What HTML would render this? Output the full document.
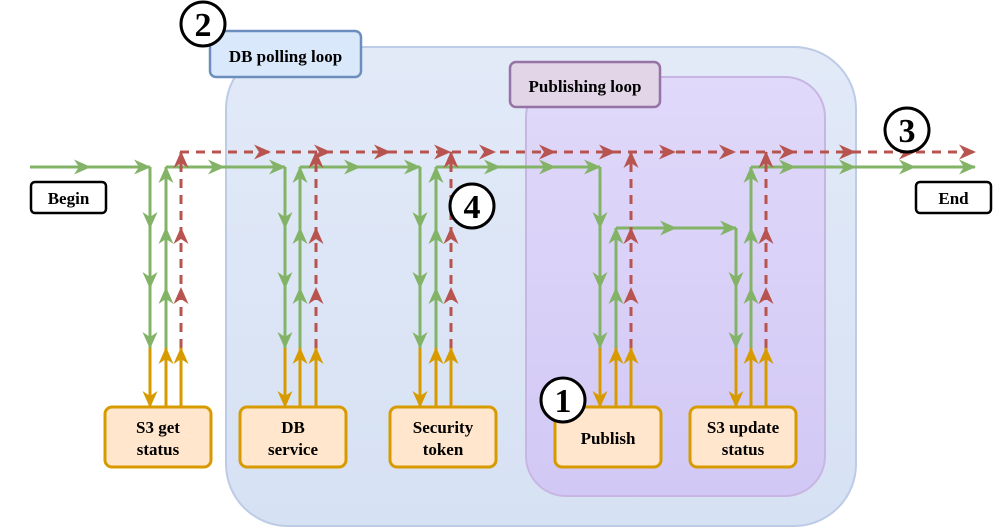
<!DOCTYPE html>
<html><head><meta charset="utf-8"><style>
html,body{margin:0;padding:0;background:#fff;width:993px;height:528px;overflow:hidden}
svg text{font-family:"Liberation Serif",serif;font-weight:bold;fill:#000}
</style></head><body>
<svg width="993" height="528" viewBox="0 0 993 528" xmlns="http://www.w3.org/2000/svg" xmlns:xlink="http://www.w3.org/1999/xlink">
<defs>
<linearGradient id="gb" x1="0" y1="0" x2="0" y2="1"><stop offset="0" stop-color="#e2eaf8"/><stop offset="1" stop-color="#d6e1f3"/></linearGradient>
<linearGradient id="gp" x1="0" y1="0" x2="0" y2="1"><stop offset="0" stop-color="#e0d9fa"/><stop offset="1" stop-color="#d2c8f5"/></linearGradient>
<path id="hg" d="M1,0 L-16,-7.5 L-11,0 L-16,7.5 z" fill="#82b366"/>
<path id="hr" d="M1,0 L-16,-7.5 L-11,0 L-16,7.5 z" fill="#b85450"/>
<path id="ho" d="M1,0 L-16,-7.5 L-11,0 L-16,7.5 z" fill="#d79b00"/>
</defs>

<rect x="226" y="47" width="630" height="479" rx="62" fill="url(#gb)" stroke="#bccbe6" stroke-width="2"/>
<rect x="526" y="77" width="299" height="419" rx="40" fill="url(#gp)" stroke="#c8b6e2" stroke-width="2"/>

<rect x="210" y="31" width="151" height="46" rx="6" fill="#dae8fc" stroke="#6c8ebf" stroke-width="2.5"/>
<text x="285.5" y="62" font-size="17" text-anchor="middle">DB polling loop</text>
<rect x="510" y="62" width="150" height="45" rx="6" fill="#e1d5e7" stroke="#9673a6" stroke-width="2.5"/>
<text x="585" y="92" font-size="17" text-anchor="middle">Publishing loop</text>

<g fill="none" stroke-width="3">
<g stroke="#82b366">
<path d="M30,167H150"/><path d="M166,167H285"/><path d="M300,167H420"/><path d="M436,167H600"/><path d="M751,167H975"/>
<path d="M616,228H736"/>
<path d="M150,167V348"/><path d="M166,167V348"/>
<path d="M285,167V348"/><path d="M300,167V348"/>
<path d="M420,167V348"/><path d="M436,167V348"/>
<path d="M600,167V348"/><path d="M616,228V348"/>
<path d="M736,228V348"/><path d="M751,167V348"/>
</g>
<g stroke="#b85450" stroke-dasharray="9,7">
<path d="M180,152H975"/>
<path d="M181,348V152"/><path d="M316,348V152"/><path d="M451,348V152"/><path d="M631,348V152"/><path d="M766,348V152"/>
</g>
<g stroke="#d79b00">
<path d="M150,348V407"/><path d="M166,407V348"/><path d="M181,407V348"/>
<path d="M285,348V407"/><path d="M300,407V348"/><path d="M316,407V348"/>
<path d="M420,348V407"/><path d="M436,407V348"/><path d="M451,407V348"/>
<path d="M600,348V407"/><path d="M616,407V348"/><path d="M631,407V348"/>
<path d="M736,348V407"/><path d="M751,407V348"/><path d="M766,407V348"/>
</g>
</g>

<!-- green right -->
<use xlink:href="#hg" href="#hg" transform="translate(90,167)"/>
<use xlink:href="#hg" href="#hg" transform="translate(150,167)"/>
<use xlink:href="#hg" href="#hg" transform="translate(224,167)"/>
<use xlink:href="#hg" href="#hg" transform="translate(285,167)"/>
<use xlink:href="#hg" href="#hg" transform="translate(360,167)"/>
<use xlink:href="#hg" href="#hg" transform="translate(420,167)"/>
<use xlink:href="#hg" href="#hg" transform="translate(500,167)"/>
<use xlink:href="#hg" href="#hg" transform="translate(555,167)"/>
<use xlink:href="#hg" href="#hg" transform="translate(600,167)"/>
<use xlink:href="#hg" href="#hg" transform="translate(795,167)"/>
<use xlink:href="#hg" href="#hg" transform="translate(855,167)"/>
<use xlink:href="#hg" href="#hg" transform="translate(915,167)"/>
<use xlink:href="#hg" href="#hg" transform="translate(975,167)"/>
<use xlink:href="#hg" href="#hg" transform="translate(676,228)"/>
<use xlink:href="#hg" href="#hg" transform="translate(736,228)"/>
<!-- green down -->
<use href="#hg" transform="translate(150,228) rotate(90)"/><use href="#hg" transform="translate(150,288) rotate(90)"/><use href="#hg" transform="translate(150,348) rotate(90)"/>
<use href="#hg" transform="translate(285,228) rotate(90)"/><use href="#hg" transform="translate(285,288) rotate(90)"/><use href="#hg" transform="translate(285,348) rotate(90)"/>
<use href="#hg" transform="translate(420,228) rotate(90)"/><use href="#hg" transform="translate(420,288) rotate(90)"/><use href="#hg" transform="translate(420,348) rotate(90)"/>
<use href="#hg" transform="translate(600,228) rotate(90)"/><use href="#hg" transform="translate(600,288) rotate(90)"/><use href="#hg" transform="translate(600,348) rotate(90)"/>
<use href="#hg" transform="translate(736,288) rotate(90)"/><use href="#hg" transform="translate(736,348) rotate(90)"/>
<!-- green up -->
<use href="#hg" transform="translate(166,288) rotate(-90)"/><use href="#hg" transform="translate(166,228) rotate(-90)"/><use href="#hg" transform="translate(166,167) rotate(-90)"/>
<use href="#hg" transform="translate(300,288) rotate(-90)"/><use href="#hg" transform="translate(300,228) rotate(-90)"/><use href="#hg" transform="translate(300,167) rotate(-90)"/>
<use href="#hg" transform="translate(436,288) rotate(-90)"/><use href="#hg" transform="translate(436,228) rotate(-90)"/><use href="#hg" transform="translate(436,167) rotate(-90)"/>
<use href="#hg" transform="translate(616,288) rotate(-90)"/><use href="#hg" transform="translate(616,228) rotate(-90)"/>
<use href="#hg" transform="translate(751,288) rotate(-90)"/><use href="#hg" transform="translate(751,228) rotate(-90)"/><use href="#hg" transform="translate(751,167) rotate(-90)"/>
<!-- red right -->
<use href="#hr" transform="translate(270,152)"/><use href="#hr" transform="translate(330,152)"/><use href="#hr" transform="translate(390,152)"/><use href="#hr" transform="translate(450,152)"/><use href="#hr" transform="translate(495,152)"/><use href="#hr" transform="translate(555,152)"/><use href="#hr" transform="translate(615,152)"/><use href="#hr" transform="translate(675,152)"/><use href="#hr" transform="translate(735,152)"/><use href="#hr" transform="translate(795,152)"/><use href="#hr" transform="translate(855,152)"/><use href="#hr" transform="translate(915,152)"/><use href="#hr" transform="translate(975,152)"/>
<!-- red up -->
<use href="#hr" transform="translate(181,288) rotate(-90)"/><use href="#hr" transform="translate(181,228) rotate(-90)"/><use href="#hr" transform="translate(181,152) rotate(-90)"/>
<use href="#hr" transform="translate(316,288) rotate(-90)"/><use href="#hr" transform="translate(316,228) rotate(-90)"/><use href="#hr" transform="translate(316,152) rotate(-90)"/>
<use href="#hr" transform="translate(451,288) rotate(-90)"/><use href="#hr" transform="translate(451,228) rotate(-90)"/><use href="#hr" transform="translate(451,152) rotate(-90)"/>
<use href="#hr" transform="translate(631,288) rotate(-90)"/><use href="#hr" transform="translate(631,228) rotate(-90)"/><use href="#hr" transform="translate(631,152) rotate(-90)"/>
<use href="#hr" transform="translate(766,288) rotate(-90)"/><use href="#hr" transform="translate(766,228) rotate(-90)"/><use href="#hr" transform="translate(766,152) rotate(-90)"/>
<!-- orange -->
<use href="#ho" transform="translate(150,407) rotate(90)"/><use href="#ho" transform="translate(285,407) rotate(90)"/><use href="#ho" transform="translate(420,407) rotate(90)"/><use href="#ho" transform="translate(600,407) rotate(90)"/><use href="#ho" transform="translate(736,407) rotate(90)"/>
<use href="#ho" transform="translate(166,348) rotate(-90)"/><use href="#ho" transform="translate(181,348) rotate(-90)"/>
<use href="#ho" transform="translate(300,348) rotate(-90)"/><use href="#ho" transform="translate(316,348) rotate(-90)"/>
<use href="#ho" transform="translate(436,348) rotate(-90)"/><use href="#ho" transform="translate(451,348) rotate(-90)"/>
<use href="#ho" transform="translate(616,348) rotate(-90)"/><use href="#ho" transform="translate(631,348) rotate(-90)"/>
<use href="#ho" transform="translate(751,348) rotate(-90)"/><use href="#ho" transform="translate(766,348) rotate(-90)"/>

<g fill="#ffe6cc" stroke="#d79b00" stroke-width="3">
<rect x="105" y="407" width="106" height="60" rx="7"/>
<rect x="240" y="407" width="106" height="60" rx="7"/>
<rect x="390" y="407" width="106" height="60" rx="7"/>
<rect x="555" y="407" width="106" height="60" rx="7"/>
<rect x="690" y="407" width="106" height="60" rx="7"/>
</g>
<g font-size="17" text-anchor="middle">
<text x="158" y="433">S3 get</text><text x="158" y="455">status</text>
<text x="293" y="433">DB</text><text x="293" y="455">service</text>
<text x="443" y="433">Security</text><text x="443" y="455">token</text>
<text x="608" y="444">Publish</text>
<text x="743" y="433">S3 update</text><text x="743" y="455">status</text>
</g>

<rect x="31" y="182" width="75" height="31" rx="4" fill="#fff" stroke="#000" stroke-width="2.5"/>
<text x="68.5" y="204" font-size="17" text-anchor="middle">Begin</text>
<rect x="916" y="182" width="75" height="31" rx="4" fill="#fff" stroke="#000" stroke-width="2.5"/>
<text x="953.5" y="204" font-size="17" text-anchor="middle">End</text>

<g fill="#fff" stroke="#000" stroke-width="3">
<circle cx="203" cy="24" r="22"/>
<circle cx="907" cy="130" r="22"/>
<circle cx="472" cy="206" r="22"/>
<circle cx="563" cy="400" r="22"/>
</g>
<g font-size="34" text-anchor="middle">
<text x="203" y="36">2</text>
<text x="907" y="142">3</text>
<text x="472" y="218">4</text>
<text x="563" y="412">1</text>
</g>
</svg>
</body></html>
